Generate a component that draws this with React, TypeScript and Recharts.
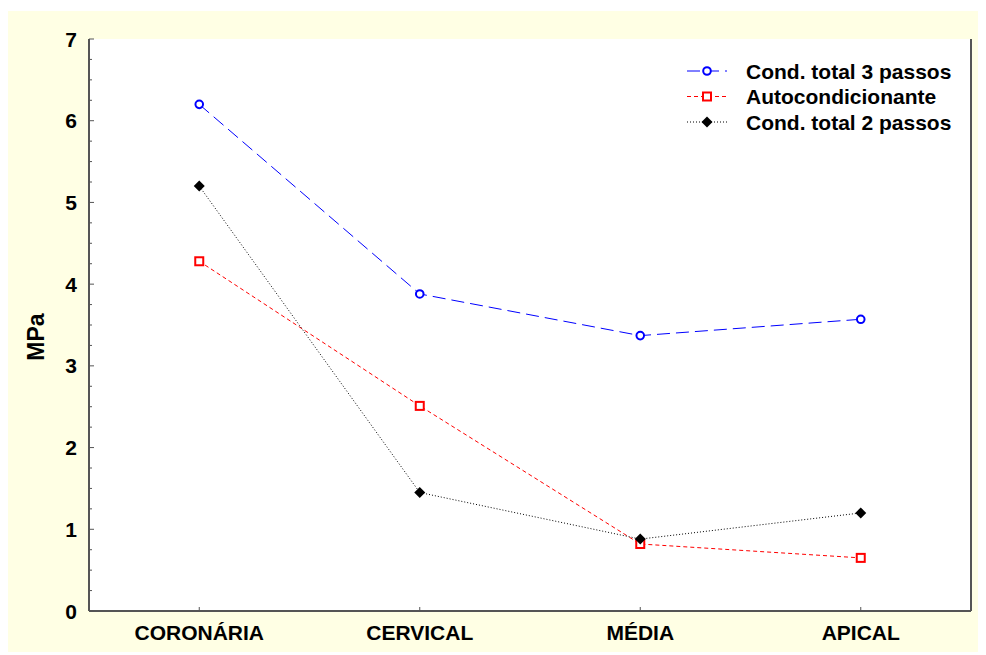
import React from 'react'
import { LineChart, Line, XAxis, YAxis, CartesianGrid } from 'recharts'

const categories = ['CORONÁRIA', 'CERVICAL', 'MÉDIA', 'APICAL']
const total3 = [6.2, 3.88, 3.37, 3.57]
const autoCond = [4.28, 2.51, 0.82, 0.65]
const total2 = [5.2, 1.45, 0.88, 1.2]
const yLabels = [0, 1, 2, 3, 4, 5, 6, 7]
const yTicks = Array.from({ length: 29 }, (_, i) => i / 4)

const data = categories.map((name, i) => ({
  name,
  total3: total3[i],
  autoCond: autoCond[i],
  total2: total2[i],
}))

const FONT = '"Liberation Sans", Arial, sans-serif'
const FRAME = '#555555'

const CircleDot = ({ cx, cy, color }: any) => (
  <circle cx={cx} cy={cy} r={3.8} fill="#fff" stroke={color} strokeWidth={2} />
)
const SquareDot = ({ cx, cy, color }: any) => (
  <rect x={cx - 4} y={cy - 4} width={8} height={8} fill="#fff" stroke={color} strokeWidth={2} />
)
const DiamondDot = ({ cx, cy, color }: any) => (
  <polygon points={`${cx},${cy - 5.5} ${cx + 5.5},${cy} ${cx},${cy + 5.5} ${cx - 5.5},${cy}`} fill={color} />
)

const series = [
  { key: 'total3', name: 'Cond. total 3 passos', color: '#0000FF', dash: '13 6', Dot: CircleDot },
  { key: 'autoCond', name: 'Autocondicionante', color: '#FF0000', dash: '4 3', Dot: SquareDot },
  { key: 'total2', name: 'Cond. total 2 passos', color: '#000000', dash: '1 2', Dot: DiamondDot },
]

const LeftTick = ({ x, y, payload }: any) => {
  const major = yLabels.includes(payload.value)
  return (
    <g>
      <line x1={x} x2={x + (major ? 5 : 3)} y1={y} y2={y} stroke={FRAME} />
      {major && (
        <text x={x - 12} y={y + 7.5} textAnchor="end" fontFamily={FONT} fontWeight="bold" fontSize={21} fill="#000">
          {payload.value}
        </text>
      )}
    </g>
  )
}

const RightTick = ({ x, y, payload }: any) => {
  const major = yLabels.includes(payload.value)
  return <line x1={x} x2={x - (major ? 5 : 3)} y1={y} y2={y} stroke={FRAME} />
}

const BottomTick = ({ x, y, payload }: any) => (
  <g>
    <line x1={x} x2={x} y1={y} y2={y - 4} stroke={FRAME} />
    <text x={x} y={y + 29} textAnchor="middle" fontFamily={FONT} fontWeight="bold" fontSize={21} fill="#000">
      {payload.value}
    </text>
  </g>
)

export default function App() {
  return (
    <div style={{ marginTop: 3, width: 978, height: 641, background: '#FFFFE4', position: 'relative' }}>
      <LineChart width={978} height={641} data={data} margin={{ top: 28, right: 0, left: 0, bottom: 0 }}>
        <CartesianGrid horizontal={false} vertical={false} fill="#ffffff" />
        <XAxis
          dataKey="name"
          height={41}
          padding={{ left: 110.25, right: 110.25 }}
          axisLine={{ stroke: FRAME, strokeWidth: 2 }}
          tickLine={false}
          tickSize={0}
          tickMargin={0}
          interval={0}
          tick={<BottomTick />}
        />
        <XAxis
          xAxisId="top"
          dataKey="name"
          orientation="top"
          height={0}
          padding={{ left: 110.25, right: 110.25 }}
          axisLine={{ stroke: FRAME, strokeWidth: 1 }}
          tick={false}
          tickLine={false}
        />
        <YAxis
          width={81}
          domain={[0, 7]}
          ticks={yTicks}
          interval={0}
          axisLine={{ stroke: FRAME, strokeWidth: 2 }}
          tickLine={false}
          tickSize={0}
          tickMargin={0}
          tick={<LeftTick />}
        />
        <YAxis
          yAxisId="r"
          orientation="right"
          width={15}
          domain={[0, 7]}
          ticks={yTicks}
          interval={0}
          axisLine={{ stroke: FRAME, strokeWidth: 2 }}
          tickLine={false}
          tickSize={0}
          tickMargin={0}
          tick={<RightTick />}
        />
        {series.map((s) => (
          <Line
            key={s.key}
            type="linear"
            dataKey={s.key}
            name={s.name}
            stroke={s.color}
            strokeWidth={1}
            strokeDasharray={s.dash}
            isAnimationActive={false}
            dot={(p: any) => <s.Dot key={`${s.key}-${p.index}`} cx={p.cx} cy={p.cy} color={s.color} />}
          />
        ))}
      </LineChart>
      <svg width={978} height={641} style={{ position: 'absolute', left: 0, top: 0, pointerEvents: 'none' }}>
        <text
          transform="translate(36,326) rotate(-90)"
          textAnchor="middle"
          fontFamily={FONT}
          fontWeight="bold"
          fontSize={23}
          fill="#000"
        >
          MPa
        </text>
        {series.map((s, i) => {
          const y = 60 + i * 25.5
          return (
            <g key={s.key}>
              <line x1={679} x2={719} y1={y} y2={y} stroke={s.color} strokeDasharray={s.dash} />
              <s.Dot cx={699} cy={y} color={s.color} />
              <text x={738} y={y + 7.5} fontFamily={FONT} fontWeight="bold" fontSize={21} fill="#000">
                {s.name}
              </text>
            </g>
          )
        })}
      </svg>
    </div>
  )
}
